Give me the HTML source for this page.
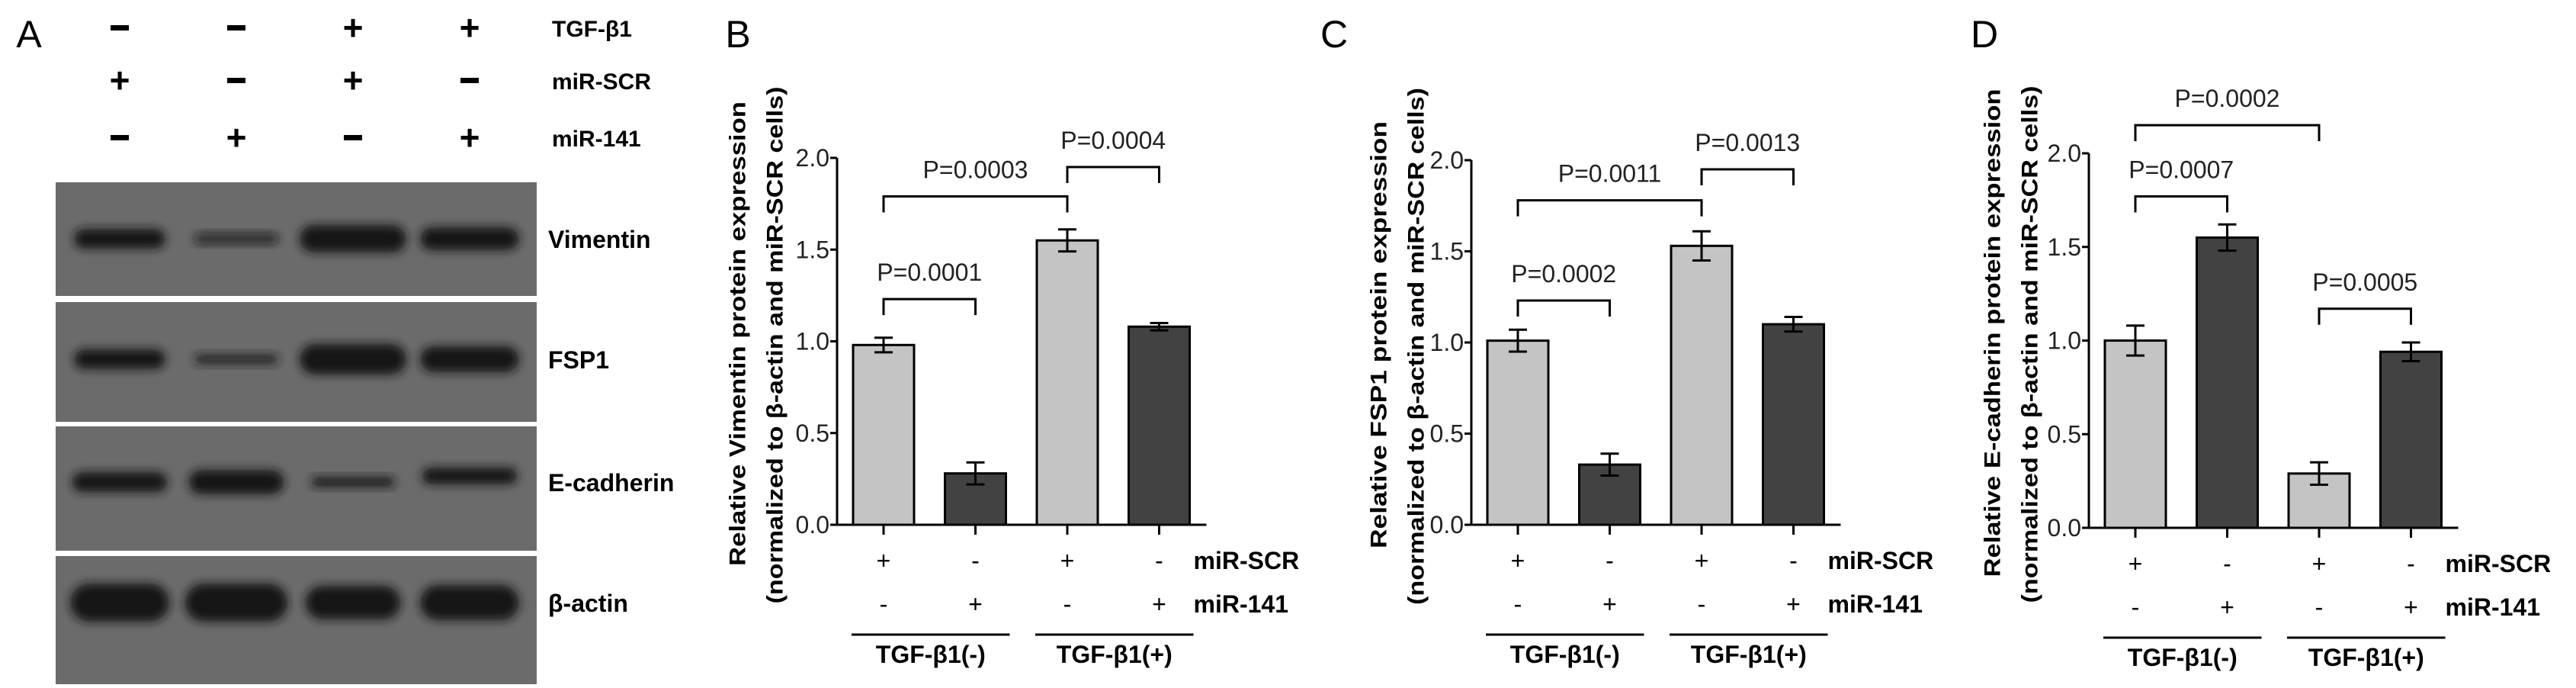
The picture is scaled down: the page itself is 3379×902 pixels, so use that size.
<!DOCTYPE html>
<html><head><meta charset="utf-8"><style>
html,body{margin:0;padding:0;background:#fff}
svg{display:block}
text{font-family:"Liberation Sans",Arial,sans-serif}
</style></head><body>
<svg id="fig" width="3379" height="902" viewBox="0 0 3379 902" xmlns="http://www.w3.org/2000/svg">
<defs><filter id="blur" x="-20%" y="-50%" width="140%" height="200%"><feGaussianBlur stdDeviation="6"/></filter></defs>
<g id="panelA">
<text x="38" y="62" font-size="50" text-anchor="middle">A</text>
</g>
</svg>
<script>
// ---------- data ----------
const categories = ["miR-SCR TGF-(-)", "miR-141 TGF-(-)", "miR-SCR TGF-(+)", "miR-141 TGF-(+)"];
const vimentinValues = [0.98, 0.28, 1.55, 1.08];
const vimentinErrors = [0.04, 0.06, 0.06, 0.02];
const fsp1Values = [1.01, 0.33, 1.53, 1.10];
const fsp1Errors = [0.06, 0.06, 0.08, 0.04];
const ecadValues = [1.00, 1.55, 0.29, 0.94];
const ecadErrors = [0.08, 0.07, 0.06, 0.05];
const yTicks = [0.0, 0.5, 1.0, 1.5, 2.0];
const yTickLabels = ["0.0", "0.5", "1.0", "1.5", "2.0"];
const vimentinPLabels = ["P=0.0001", "P=0.0003", "P=0.0004"];
const vimentinPPairs = [[0,1],[0,2],[2,3]];
const vimentinPHeights = [1.23, 1.79, 1.95];
const fsp1PLabels = ["P=0.0002", "P=0.0011", "P=0.0013"];
const fsp1PPairs = [[0,1],[0,2],[2,3]];
const fsp1PHeights = [1.23, 1.78, 1.95];
const ecadPLabels = ["P=0.0007", "P=0.0002", "P=0.0005"];
const ecadPPairs = [[0,1],[0,2],[2,3]];
const ecadPHeights = [1.77, 2.15, 1.17];
const scrSigns = ["+", "-", "+", "-"];
const mirSigns = ["-", "+", "-", "+"];
const groupLabels = ["TGF-β1(-)", "TGF-β1(+)"];

const NS = "http://www.w3.org/2000/svg";
const svg = document.getElementById("fig");
function mk(tag, attrs, parent, txt){
  const e = document.createElementNS(NS, tag);
  for (const k in attrs) e.setAttribute(k, attrs[k]);
  if (txt !== undefined) e.textContent = txt;
  (parent||svg).appendChild(e);
  return e;
}

// ---------- panel A (blot) ----------
const A = document.getElementById("panelA");
const laneX = [157, 310, 463, 616];
const tgfSigns = ["-", "-", "+", "+"];
const scrA = ["+", "-", "+", "-"];
const mirA = ["-", "+", "-", "+"];
[[tgfSigns,37,"TGF-β1"],[scrA,106,"miR-SCR"],[mirA,181,"miR-141"]].forEach(function(r){
  r[0].forEach(function(s,i){
    let t;
    if (s === "+") {
      t = mk("text",{x:laneX[i],y:r[1]+15,"font-size":46,"font-weight":"bold","text-anchor":"middle"},A,"+");
    } else {
      t = mk("rect",{x:laneX[i]-12,y:r[1]-4,width:24,height:7,fill:"#000"},A);
    }
    
    
  });
  const l = mk("text",{x:724,y:r[1]+11,"font-size":30,"font-weight":"bold"},A,r[2]);
  
  
});
const strips = [[239,388,"Vimentin",313],[396,553,"FSP1",471],[559,722,"E-cadherin",632],[729,897,"β-actin",790]];
const bandW = [[120,110,140,130],[120,110,140,130],[125,125,110,125],[130,135,125,130]];
const bandH = [[26,14,36,30],[26,14,40,34],[26,32,14,22],[50,50,44,46]];
const bandDark = [[1,0.75,1,1],[1,0.8,1,1],[1,1,0.9,1],[1,1,1,1]];
strips.forEach(function(s,si){
  const r = mk("rect",{x:73,y:s[0],width:631,height:s[1]-s[0],fill:"#6b6b6b"},A);
  
  
  laneX.forEach(function(x,i){
    const b = mk("rect",{x:x-bandW[si][i]/2,y:s[3]-bandH[si][i]/2-(si===2&&i===3?8:0),width:bandW[si][i],height:bandH[si][i],rx:bandH[si][i]/2,fill:"#151515","fill-opacity":bandDark[si][i],filter:"url(#blur)"},A);
    
    
  });
  const l = mk("text",{x:719,y:s[3]+12,"font-size":32,"font-weight":"bold"},A,s[2]);
  
  
});

// ---------- bar panels ----------
function panel(cfg){
  const g = mk("g",{});
  
  
  const y = v => cfg.y0 - v*(cfg.y0-cfg.y2)/2;
  const x = i => cfg.ax + 61 + i*120.5;
  const lab = mk("text",{x:cfg.letterX,y:62,"font-size":50,"text-anchor":"middle"},g,cfg.letter);
  
  
  // title
  const cy = (cfg.y0+cfg.y2)/2 - 10;
  const t1 = mk("text",{transform:"translate("+cfg.t1x+","+cy+") rotate(-90)","font-size":30,"font-weight":"bold","text-anchor":"middle","dominant-baseline":"central",textLength:cfg.t1len,lengthAdjust:"spacingAndGlyphs"},g,cfg.title);
  
  
  const t2 = mk("text",{transform:"translate("+(cfg.t1x+49)+","+(cy+15)+") rotate(-90)","font-size":30,"font-weight":"bold","text-anchor":"middle","dominant-baseline":"central",textLength:678,lengthAdjust:"spacingAndGlyphs"},g,"(normalized to β-actin and miR-SCR cells)");
  
  
  // axes
  const ya = mk("line",{x1:cfg.ax,y1:cfg.y2,x2:cfg.ax,y2:cfg.y0,stroke:"#000","stroke-width":3},g);
  
  
  yTicks.forEach(function(v,i){
    const tk = mk("line",{x1:cfg.ax-9,y1:y(v),x2:cfg.ax,y2:y(v),stroke:"#000","stroke-width":3},g);
    
    
    const tl = mk("text",{x:cfg.ax-10,y:y(v)+11,"font-size":32,"text-anchor":"end",fill:"#222"},g,yTickLabels[i]);
    
    
  });
  // bars
  cfg.values.forEach(function(v,i){
    const b = mk("rect",{x:x(i)-40,y:y(v),width:80,height:cfg.y0-y(v),fill:(i%2===0)?cfg.c0:cfg.c1,stroke:"#000","stroke-width":3},g);
    
    
    const e = cfg.errors[i];
    const eb = mk("path",{d:"M"+x(i)+","+y(v+e)+"V"+y(v-e)+"M"+(x(i)-12)+","+y(v+e)+"h24M"+(x(i)-12)+","+y(v-e)+"h24",stroke:"#000","stroke-width":3,fill:"none"},g);
    
    
  });
  const xa = mk("line",{x1:cfg.ax,y1:cfg.y0,x2:x(3)+62,y2:cfg.y0,stroke:"#000","stroke-width":3},g);
  
  
  categories.forEach(function(c,i){
    const tk = mk("line",{x1:x(i),y1:cfg.y0,x2:x(i),y2:cfg.y0+13,stroke:"#000","stroke-width":3},g);
    
    
    const s1 = mk("text",{x:x(i),y:cfg.y0+58,"font-size":32,"text-anchor":"middle"},g,scrSigns[i]);
    
    
    const s2 = mk("text",{x:x(i),y:cfg.y0+115,"font-size":32,"text-anchor":"middle"},g,mirSigns[i]);
    
    
  });
  const r1 = mk("text",{x:x(3)+45,y:cfg.y0+58,"font-size":32,"font-weight":"bold"},g,"miR-SCR");
  
  
  const r2 = mk("text",{x:x(3)+45,y:cfg.y0+115,"font-size":32,"font-weight":"bold"},g,"miR-141");
  
  
  groupLabels.forEach(function(gl,k){
    const a = x(2*k)-42, b = x(2*k+1)+45;
    const ln = mk("line",{x1:a,y1:cfg.y0+144,x2:b,y2:cfg.y0+144,stroke:"#000","stroke-width":3},g);
    
    
    const tx = mk("text",{x:(a+b)/2,y:cfg.y0+181,"font-size":32,"font-weight":"bold","text-anchor":"middle"},g,gl);
    
    
  });
  cfg.pLabels.forEach(function(p,k){
    const i1 = cfg.pPairs[k][0], i2 = cfg.pPairs[k][1], h = y(cfg.pHeights[k]);
    const br = mk("path",{d:"M"+x(i1)+","+(h+21)+"V"+h+"H"+x(i2)+"V"+(h+21),stroke:"#000","stroke-width":3,fill:"none"},g);
    
    
    const pt = mk("text",{x:(x(i1)+x(i2))/2,y:h-24,"font-size":32,"text-anchor":"middle",fill:"#222"},g,p);
    
    
  });
}
panel({name:"vimentin-chart",letter:"B",letterX:968,ax:1098,y0:688,y2:207,t1x:968,t1len:609,title:"Relative Vimentin protein expression",values:vimentinValues,errors:vimentinErrors,pLabels:vimentinPLabels,pPairs:vimentinPPairs,pHeights:vimentinPHeights,c0:"#c4c4c4",c1:"#424242"});
panel({name:"fsp1-chart",letter:"C",letterX:1750,ax:1930,y0:688,y2:210,t1x:1809,t1len:560,title:"Relative FSP1 protein expression",values:fsp1Values,errors:fsp1Errors,pLabels:fsp1PLabels,pPairs:fsp1PPairs,pHeights:fsp1PHeights,c0:"#c4c4c4",c1:"#424242"});
panel({name:"e-cadherin-chart",letter:"D",letterX:2603,ax:2740,y0:692,y2:201,t1x:2614,t1len:640,title:"Relative E-cadherin protein expression",values:ecadValues,errors:ecadErrors,pLabels:ecadPLabels,pPairs:ecadPPairs,pHeights:ecadPHeights,c0:"#c4c4c4",c1:"#424242"});
</script>
</body></html>
